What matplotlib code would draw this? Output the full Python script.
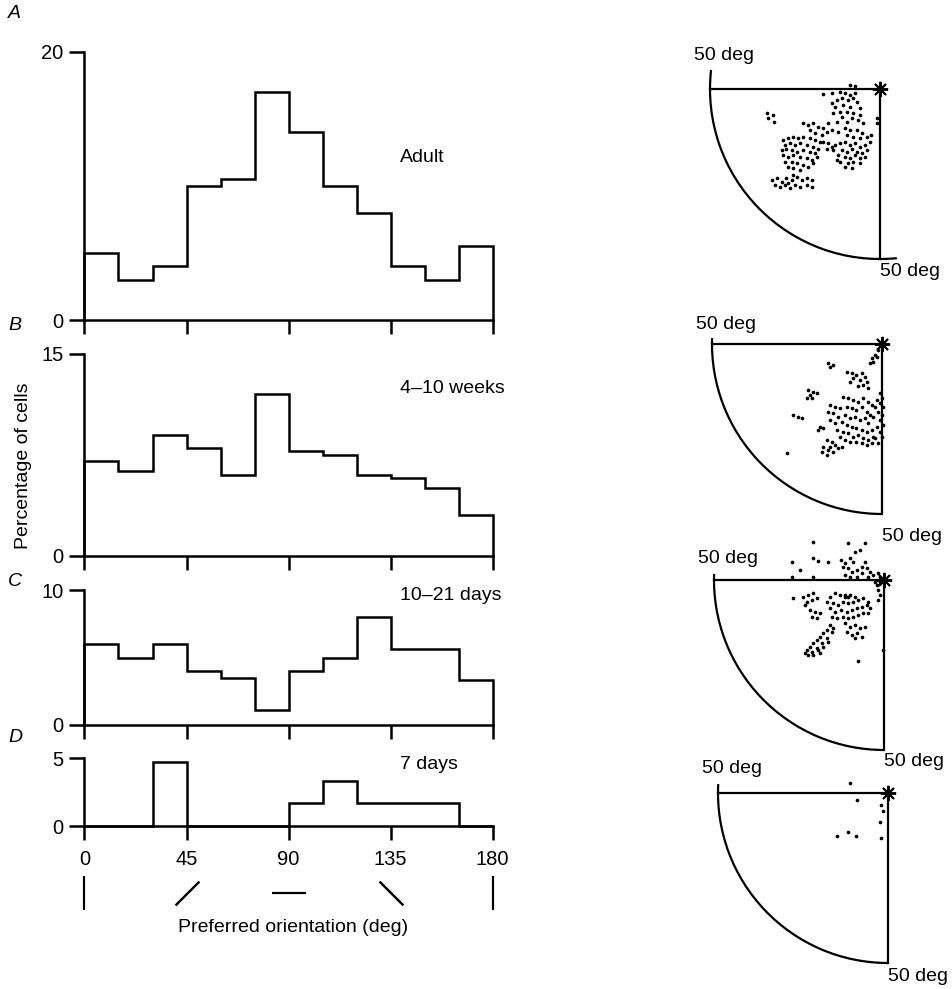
import numpy as np
import matplotlib
matplotlib.use('Agg')
import matplotlib.pyplot as plt
from matplotlib.patches import Arc
from matplotlib.transforms import blended_transform_factory

plt.rcParams['font.family'] = ['Liberation Sans', 'DejaVu Sans']
plt.rcParams['font.size'] = 14

# histogram data: % of cells per 15 deg bin of preferred orientation
bin_edges = [0, 15, 30, 45, 60, 75, 90, 105, 120, 135, 150, 165, 180]
adult = [5.0, 3.0, 4.0, 10.0, 10.5, 17.0, 14.0, 10.0, 8.0, 4.0, 3.0, 5.5]
weeks_4_10 = [7.0, 6.3, 9.0, 8.0, 6.0, 12.0, 7.8, 7.5, 6.0, 5.8, 5.0, 3.0]
days_10_21 = [6.0, 5.0, 6.0, 4.0, 3.5, 1.1, 4.0, 5.0, 8.0, 5.6, 5.6, 3.3]
days_7 = [0, 0, 4.7, 0, 0, 0, 1.7, 3.3, 1.7, 1.7, 1.7, 0]
y_max = [20, 15, 10, 5]
panel_names = ['Adult', '4\u201310 weeks', '10\u201321 days', '7 days']
panel_letters = ['A', 'B', 'C', 'D']
x_ticks = [0, 45, 90, 135, 180]
icon_angles = [0, 45, 90, 135, 180]

# receptive field positions (azimuth, elevation) in deg
rf_adult = [(-8.8, 1.2), (-7.4, 0.9), (-16.9, -1.5), (-14.2, -1.3), (-11.8, -0.8), (-10.3, -1.3),
            (-8.8, -1.8), (-7.4, -1.3), (-11.3, -2.7), (-9.3, -3.2), (-7.8, -2.7), (-6.9, -3.7),
            (-12.7, -3.2), (-14.2, -4.2), (-13.2, -5.2), (-10.8, -4.7), (-8.8, -5.2), (-5.9, -5.7),
            (-11.8, -6.7), (-9.8, -6.7), (-7.8, -7.2), (-5.9, -7.6), (-13.7, -7.2), (-11.3, -8.1),
            (-8.3, -8.6), (-6.4, -9.1), (-9.8, -9.6), (-4.9, -10.1), (-12.7, -9.6), (-15.2, -10.1),
            (-33.3, -7.2), (-31.4, -7.6), (-31.2, -9.6), (-32.8, -8.6), (-1.0, -8.6), (-0.8, -10.1),
            (-22.5, -10.1), (-21.1, -10.6), (-19.6, -10.1), (-18.1, -11.1), (-20.6, -12.1),
            (-16.7, -11.6), (-15.7, -12.5), (-19.1, -13.0), (-17.2, -13.5), (-14.2, -12.1),
            (-12.3, -12.5), (-10.3, -11.6), (-8.8, -12.1), (-6.9, -12.1), (-5.4, -13.0),
            (-3.9, -14.0), (-2.5, -13.5), (-5.9, -14.5), (-7.8, -14.0), (-9.8, -13.5),
            (-16.7, -15.5), (-15.2, -16.0), (-14.2, -17.0), (-13.2, -16.5), (-11.8, -16.0),
            (-10.3, -15.5), (-8.8, -16.5), (-7.4, -16.0), (-5.9, -17.0), (-4.4, -16.5), (-2.9, -15.5),
            (-15.7, -17.5), (-13.7, -17.9), (-11.3, -17.9), (-9.8, -18.4), (-8.3, -17.5),
            (-6.9, -18.4), (-5.4, -18.9), (-3.9, -17.9), (-12.3, -19.4), (-10.3, -19.9),
            (-8.8, -20.4), (-7.4, -19.4), (-5.9, -20.4), (-4.4, -19.9), (-11.8, -21.4),
            (-9.3, -21.9), (-7.8, -21.4), (-5.9, -21.9), (-8.3, -23.3), (-10.3, -22.8), (-12.7, -20.9),
            (-28.4, -15.0), (-27.0, -14.5), (-25.5, -14.0), (-24.0, -14.5), (-22.5, -14.0),
            (-20.6, -14.5), (-19.1, -15.0), (-17.6, -15.5), (-27.9, -16.5), (-26.5, -16.0),
            (-25.0, -16.5), (-23.5, -16.0), (-21.6, -16.5), (-19.6, -17.0), (-18.1, -17.5),
            (-28.9, -17.9), (-27.5, -17.5), (-26.0, -17.9), (-24.5, -18.4), (-22.5, -17.9),
            (-20.6, -18.4), (-19.1, -18.9), (-28.4, -19.4), (-27.0, -19.9), (-25.5, -19.4),
            (-23.5, -19.9), (-21.6, -20.4), (-20.1, -20.9), (-27.9, -21.4), (-26.0, -21.4),
            (-24.5, -21.9), (-22.5, -22.4), (-21.1, -22.8), (-27.0, -22.8), (-25.5, -23.3),
            (-23.5, -23.8), (-19.6, -21.9), (-18.6, -19.9),
            (-31.9, -26.8), (-30.4, -26.3), (-28.9, -27.3), (-27.5, -26.3), (-26.0, -26.8),
            (-24.5, -25.8), (-23.0, -26.8), (-21.6, -26.3), (-20.1, -26.8), (-30.9, -28.2),
            (-29.4, -28.7), (-27.9, -28.2), (-26.5, -29.2), (-25.0, -28.2), (-23.5, -28.7),
            (-21.6, -28.2), (-20.1, -28.7), (-25.5, -25.3), (-27.0, -27.7)]

rf_weeks = [(-1.1, -1.8), (-2.1, -3.2), (-3.0, -4.2), (-3.5, -5.7), (-1.6, -3.7), (-2.5, -5.2),
            (-15.8, -5.7), (-14.3, -6.2), (-15.3, -6.7), (-10.4, -8.1), (-8.9, -8.6), (-7.5, -9.1),
            (-6.0, -8.6), (-5.0, -9.6), (-8.4, -10.1), (-6.5, -10.6), (-4.5, -11.1), (-9.4, -11.1),
            (-5.5, -12.1), (-7.0, -12.5), (-4.0, -13.0),
            (-21.7, -13.5), (-20.2, -14.0), (-19.2, -14.5), (-21.2, -15.0), (-20.7, -16.0), (-22.2, -16.0),
            (-26.1, -20.9), (-24.6, -21.4), (-23.6, -21.9), (-18.2, -24.3), (-17.3, -24.8),
            (-18.7, -25.3), (-28.0, -32.2),
            (-0.6, -14.5), (-0.1, -16.0), (-1.6, -16.5), (-0.6, -17.5), (0.4, -18.4), (-2.1, -18.4),
            (-1.1, -19.9), (-0.1, -20.9), (-2.5, -21.4), (-0.6, -22.4), (0.4, -23.8), (-1.6, -24.3),
            (-0.6, -25.8), (-0.1, -27.3), (-2.1, -27.7), (-1.1, -29.2),
            (-11.4, -15.5), (-9.9, -16.0), (-8.4, -16.5), (-7.0, -17.0), (-5.5, -16.0), (-4.0, -17.0),
            (-3.0, -17.9), (-15.3, -17.9), (-13.8, -18.4), (-12.4, -18.9), (-10.4, -18.4),
            (-8.9, -18.9), (-7.5, -19.4), (-6.0, -18.4), (-4.5, -19.9), (-3.5, -20.9),
            (-15.8, -19.9), (-14.3, -20.4), (-12.8, -21.4), (-10.9, -20.9), (-9.4, -21.9),
            (-7.9, -21.4), (-6.5, -22.4), (-5.0, -21.9), (-4.0, -23.3), (-15.3, -22.4),
            (-13.8, -23.3), (-11.9, -22.8), (-10.4, -23.8), (-8.9, -24.3), (-7.5, -24.8),
            (-6.0, -25.3), (-4.5, -25.8), (-3.0, -25.3), (-13.3, -25.3), (-11.4, -25.8),
            (-9.9, -26.3), (-8.4, -27.3), (-7.0, -26.8), (-5.5, -27.7), (-4.0, -28.2), (-2.5, -27.3),
            (-12.4, -27.3), (-10.9, -28.2), (-9.4, -28.7), (-7.5, -28.7), (-6.0, -29.2),
            (-4.5, -29.7), (-3.0, -29.2),
            (-16.3, -28.2), (-14.8, -28.7), (-15.3, -30.2), (-13.8, -29.7), (-17.3, -30.2),
            (-15.8, -31.2), (-14.3, -31.7), (-12.8, -30.7), (-11.9, -30.2), (-17.7, -31.7),
            (-16.3, -32.6)]

rf_days_10_21 = [(-20.8, 11.3), (-10.5, 10.8), (-5.6, 10.8), (-7.1, 8.8), (-8.5, 8.3), (-27.2, 5.4),
                 (-24.7, 2.9), (-20.8, 6.4), (-19.3, 5.6), (-16.4, 5.4), (-12.5, 5.9), (-11.5, 4.9),
                 (-10.0, 6.4), (-9.0, 5.4), (-12.0, 3.9), (-10.5, 3.4), (-9.5, 2.5), (-8.0, 2.9),
                 (-6.6, 3.9), (-5.6, 5.4), (-5.1, 3.4), (-4.1, 2.5), (-6.6, 2.0), (-3.1, 1.5),
                 (-8.0, 1.0), (-27.2, 1.0), (-20.8, 1.0), (-11.5, 1.5), (-10.0, 1.0), (-4.6, 1.0),
                 (-1.7, 2.0), (-1.2, 1.0),
                 (-2.2, -1.5), (-1.7, -2.9), (-1.2, -4.4), (-1.7, -5.9), (-1.2, -0.5), (-2.6, -0.5),
                 (-26.7, -5.4), (-23.7, -4.9), (-22.3, -4.4), (-20.8, -3.9), (-22.7, -6.4),
                 (-21.3, -5.9), (-19.8, -5.4), (-23.2, -7.4), (-21.8, -8.8), (-20.3, -9.3),
                 (-18.8, -9.8), (-21.3, -10.8), (-19.8, -11.3),
                 (-15.9, -4.9), (-14.4, -3.9), (-12.9, -4.4), (-11.5, -4.9), (-10.0, -4.4), (-8.5, -4.9),
                 (-16.9, -6.4), (-14.9, -6.9), (-13.4, -7.4), (-12.0, -6.4), (-10.5, -6.9), (-9.0, -6.4),
                 (-7.5, -5.9), (-6.1, -5.4), (-4.6, -6.4), (-15.9, -8.3), (-14.4, -9.3), (-12.5, -8.8),
                 (-11.0, -9.3), (-9.5, -8.8), (-8.0, -8.3), (-6.6, -7.8), (-5.1, -7.4), (-4.1, -8.3),
                 (-15.4, -10.8), (-13.9, -11.3), (-12.0, -10.8), (-10.5, -11.3), (-9.0, -10.8),
                 (-7.5, -10.3), (-6.1, -9.8), (-4.6, -9.8), (-11.5, -4.4), (-10.5, -4.9),
                 (-11.5, -12.7), (-10.0, -13.7), (-8.5, -13.2), (-7.1, -14.2), (-5.6, -13.7),
                 (-11.0, -15.2), (-9.5, -16.2), (-8.0, -15.7), (-6.6, -16.7), (-8.5, -17.2),
                 (-15.9, -13.2), (-16.9, -14.7), (-17.8, -15.7), (-18.8, -16.7), (-19.8, -17.6),
                 (-20.8, -18.6), (-21.8, -19.6), (-22.7, -20.6), (-23.2, -21.6), (-21.3, -21.1),
                 (-19.8, -20.1), (-18.3, -18.6), (-16.9, -17.2), (-15.4, -15.2), (-14.9, -14.2),
                 (-22.3, -22.1), (-20.8, -22.1), (-19.3, -20.6), (-17.8, -19.6), (-16.4, -18.1),
                 (-18.8, -21.6), (-7.5, -23.8), (-0.4, -20.6)]

rf_days_7 = [(-11.3, 2.9), (-9.0, -2.0), (-2.2, -3.4), (-1.5, -5.4), (-2.3, -8.6),
             (-2.0, -13.2), (-14.9, -12.7), (-11.8, -11.6), (-9.5, -12.5)]

W, H = 953, 989
fig = plt.figure(figsize=(W / 100, H / 100), dpi=100)

# left column: orientation histograms
hist_data = [adult, weeks_4_10, days_10_21, days_7]
hist_boxes = [(51.7, 320.0), (353.7, 555.7), (590.0, 725.0), (758.3, 826.0)]
label_y = [12.1, 12.4, 9.6, 4.55]
letter_y = [14, 326, 582, 738]
ax_left, ax_right = 84.5, 492.5
lw = 1.8
hist_axes = []
for i, vals in enumerate(hist_data):
    top, bot = hist_boxes[i]
    ax = fig.add_axes([ax_left / W, 1 - bot / H, (ax_right - ax_left) / W, (bot - top) / H])
    ax.stairs(vals, bin_edges, baseline=0, color='black', lw=lw, clip_on=False)
    ax.set_xlim(0, 180)
    ax.set_ylim(0, y_max[i])
    for s in ['top', 'right']:
        ax.spines[s].set_visible(False)
    for s in ['left', 'bottom']:
        ax.spines[s].set_linewidth(lw)
    ax.set_xticks(x_ticks)
    ax.set_yticks([0, y_max[i]])
    ax.tick_params(axis='y', direction='out', length=11, width=lw, pad=4, labelsize=14.5)
    ax.tick_params(axis='x', direction='out', length=10, width=lw, pad=7, labelsize=14.5)
    if i < 3:
        ax.set_xticklabels([])
    ax.text(139.2, label_y[i], panel_names[i], fontsize=14, va='center', ha='left')
    fig.text(8 / W, 1 - letter_y[i] / H, panel_letters[i], fontsize=14, style='italic',
             va='center', ha='left')
    hist_axes.append(ax)

# orientation glyphs under the x axis
axd = hist_axes[-1]
trans = blended_transform_factory(axd.transData, axd.transAxes)
for ang in icon_angles:
    axd.plot([ang], [-0.99], marker=(2, 2, -ang), markersize=24, markeredgewidth=1.5,
             color='black', transform=trans, clip_on=False)

fig.text(293 / W, 1 - 928 / H, 'Preferred orientation (deg)', fontsize=14, ha='center', va='center')
fig.text(24 / W, 1 - 466 / H, 'Percentage of cells', fontsize=14, rotation=90,
         ha='center', va='center')

# right column: receptive field maps (quarter field, 50 deg radius)
rf_data = [rf_adult, rf_weeks, rf_days_10_21, rf_days_7]
star_px = [(880, 89), (882, 344), (884, 580), (888, 793)]
arc_span = [(173.6, 275.7), (178.0, 270.0), (178.0, 270.0), (177.0, 270.0)]
top_label_y = [10.0, 5.6, 6.4, 7.3]
bot_label_y = [-53.8, -56.7, -53.5, -54.0]
r_px = 170
k = r_px / 50.0
x0, x1, y0, y1 = -60, 12, -62, 16
for i, pts in enumerate(rf_data):
    sx, sy = star_px[i]
    ax = fig.add_axes([(sx + x0 * k) / W, 1 - (sy - y0 * k) / H,
                       (x1 - x0) * k / W, (y1 - y0) * k / H])
    ax.set_xlim(x0, x1)
    ax.set_ylim(y0, y1)
    ax.axis('off')
    ax.plot([-50, 0], [0, 0], color='black', lw=1.6)
    ax.plot([0, 0], [0, -50], color='black', lw=1.6)
    ax.add_patch(Arc((0, 0), 100, 100, theta1=arc_span[i][0], theta2=arc_span[i][1],
                     color='black', lw=1.6))
    ax.plot([0], [0], marker=(8, 2, 0), markersize=11, markeredgewidth=1.4, color='black')
    pts = np.array(pts)
    ax.scatter(pts[:, 0], pts[:, 1], s=7, color='black', linewidths=0)
    ax.text(-54.7, top_label_y[i], '50 deg', fontsize=14, ha='left', va='center')
    ax.text(0, bot_label_y[i], '50 deg', fontsize=14, ha='left', va='center')

fig.savefig('out.png', dpi=100)
